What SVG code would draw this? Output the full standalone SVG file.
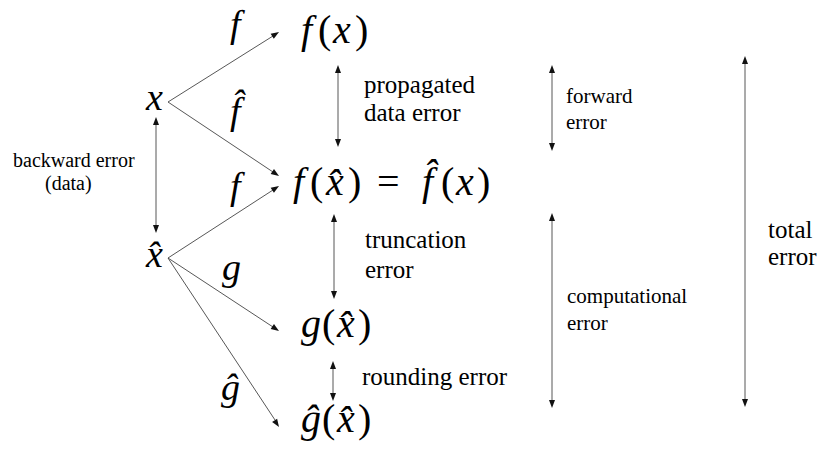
<svg xmlns="http://www.w3.org/2000/svg" width="823" height="450" viewBox="0 0 823 450">
<rect width="823" height="450" fill="#fff"/>

<g id="connectors">
<g stroke="#444" stroke-width="0.9" fill="none">
<line x1="168" y1="102" x2="273" y2="36"/>
<line x1="168" y1="102" x2="273" y2="172"/>
<line x1="168" y1="258" x2="273" y2="190"/>
<line x1="168" y1="258" x2="273" y2="327"/>
<line x1="168" y1="258" x2="275" y2="420"/>
<line x1="156" y1="120" x2="156" y2="230"/>
<line x1="338" y1="68" x2="338" y2="144"/>
<line x1="334" y1="217" x2="334" y2="296"/>
<line x1="333" y1="364" x2="333" y2="398"/>
<line x1="552" y1="68" x2="552" y2="148"/>
<line x1="552" y1="216" x2="552" y2="405"/>
<line x1="745" y1="59" x2="745" y2="404"/>
</g>
<g fill="#111" stroke="none">
<polygon points="279,32 273.83,38.81 270.63,33.73"/>
<polygon points="279,176 270.68,174.06 274,169.06"/>
<polygon points="279,186 273.92,192.87 270.66,187.83"/>
<polygon points="279,331 270.67,329.11 273.97,324.09"/>
<polygon points="279,427 272.1,421.96 277.12,418.66"/>
<polygon points="156,117 153,125 159,125"/>
<polygon points="156,233 153,225 159,225"/>
<polygon points="338,65 335,73 341,73"/>
<polygon points="338,147 335,139 341,139"/>
<polygon points="334,214 331,222 337,222"/>
<polygon points="334,299 331,291 337,291"/>
<polygon points="333,361 330,369 336,369"/>
<polygon points="333,401 330,393 336,393"/>
<polygon points="552,65 549,73 555,73"/>
<polygon points="552,151 549,143 555,143"/>
<polygon points="552,213 549,221 555,221"/>
<polygon points="552,408 549,400 555,400"/>
<polygon points="745,56 742,64 748,64"/>
<polygon points="745,407 742,399 748,399"/>
</g>
</g>

<g id="node-x">
<text font-family="Liberation Serif" font-size="38" font-style="italic" x="146" y="110">x</text>
</g>
<g id="node-xhat">
<text font-family="Liberation Serif" font-size="38" font-style="italic" x="146" y="267">x̂</text>
</g>

<g id="label-f1"><text font-family="Liberation Serif" font-size="38" font-style="italic" x="230" y="37">f</text></g>
<g id="label-fhat"><text font-family="Liberation Serif" font-size="38" font-style="italic" x="230" y="124">f̂</text></g>
<g id="label-f2"><text font-family="Liberation Serif" font-size="38" font-style="italic" x="230" y="199">f</text></g>
<g id="label-g"><text font-family="Liberation Serif" font-size="38" font-style="italic" x="222" y="280">g</text></g>
<g id="label-ghat"><text font-family="Liberation Serif" font-size="38" font-style="italic" x="221" y="400">ĝ</text></g>

<g id="node-fx">
<text font-family="Liberation Serif" font-size="40" y="43"><tspan font-style="italic" x="301">f</tspan><tspan x="318">(</tspan><tspan font-style="italic" x="333">x</tspan><tspan x="355">)</tspan></text>
</g>

<g id="node-fxhat">
<text font-family="Liberation Serif" font-size="40" y="195"><tspan font-style="italic" x="293">f</tspan><tspan x="310">(</tspan><tspan font-style="italic" x="326">x̂</tspan><tspan x="348">)</tspan><tspan x="377">=</tspan><tspan font-style="italic" x="422">f̂</tspan><tspan x="441">(</tspan><tspan font-style="italic" x="456">x</tspan><tspan x="477">)</tspan></text>
</g>

<g id="node-gxhat">
<text font-family="Liberation Serif" font-size="40" y="337"><tspan font-style="italic" x="301">g</tspan><tspan x="322">(</tspan><tspan font-style="italic" x="337">x̂</tspan><tspan x="358">)</tspan></text>
</g>

<g id="node-ghatxhat">
<text font-family="Liberation Serif" font-size="40" y="432"><tspan font-style="italic" x="301">ĝ</tspan><tspan x="322">(</tspan><tspan font-style="italic" x="337">x̂</tspan><tspan x="358">)</tspan></text>
</g>

<g id="text-backward">
<text font-family="Liberation Serif" font-size="20" x="13" y="167">backward error</text>
<text font-family="Liberation Serif" font-size="20" x="45" y="190">(data)</text>
</g>
<g id="text-propagated">
<text font-family="Liberation Serif" font-size="25" x="364" y="93">propagated</text>
<text font-family="Liberation Serif" font-size="25" x="364" y="121">data error</text>
</g>
<g id="text-forward">
<text font-family="Liberation Serif" font-size="21" x="566" y="103">forward</text>
<text font-family="Liberation Serif" font-size="21" x="566" y="129">error</text>
</g>
<g id="text-truncation">
<text font-family="Liberation Serif" font-size="25" x="365" y="248">truncation</text>
<text font-family="Liberation Serif" font-size="25" x="365" y="278">error</text>
</g>
<g id="text-computational">
<text font-family="Liberation Serif" font-size="21" x="567" y="303">computational</text>
<text font-family="Liberation Serif" font-size="21" x="567" y="330">error</text>
</g>
<g id="text-rounding">
<text font-family="Liberation Serif" font-size="25" x="362" y="385">rounding error</text>
</g>
<g id="text-total">
<text font-family="Liberation Serif" font-size="25" x="768" y="238">total</text>
<text font-family="Liberation Serif" font-size="25" x="768" y="265">error</text>
</g>
</svg>
